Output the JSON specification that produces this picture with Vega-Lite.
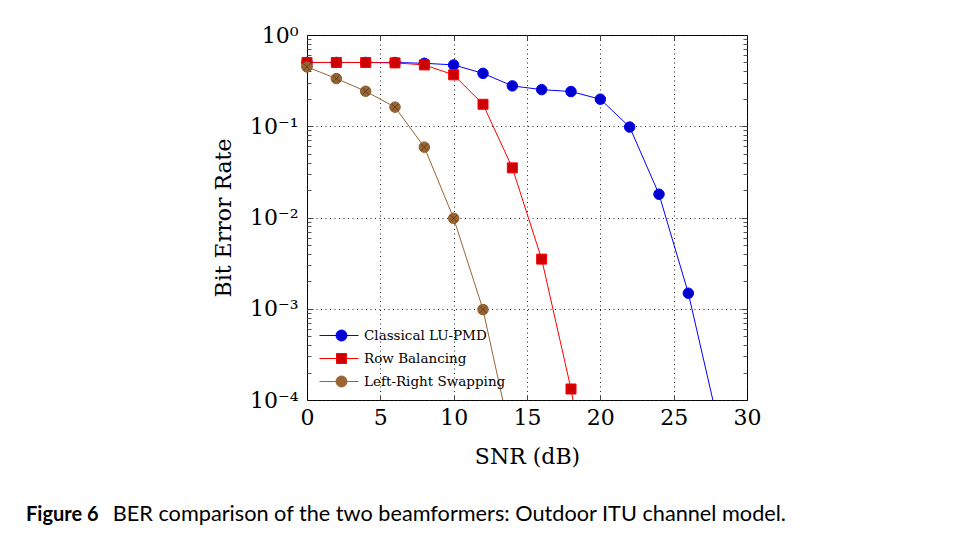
{
  "$schema": "https://vega.github.io/schema/vega-lite/v6.json",
  "width": 440,
  "height": 365,
  "autosize": {"type": "none"},
  "padding": {"left": 307, "top": 35, "right": 208, "bottom": 137},
  "background": "white",
  "config": {
    "view": {"stroke": "#000000", "strokeWidth": 1},
    "axis": {"labelColor": "#000000", "titleColor": "#000000", "titleFontWeight": "normal", "labelFont": "DejaVu Serif", "titleFont": "DejaVu Serif"},
    "title": {"color": "#000000"}
  },
  "title": {
    "text": "Figure 6",
    "subtitle": "\u200b\u2003\u2003\u2003\u2003\u2003\u2009\u2009BER comparison of the two beamformers: Outdoor ITU channel model.",
    "orient": "bottom",
    "anchor": "start",
    "frame": "group",
    "dx": -281,
    "offset": 38,
    "font": "Lato",
    "fontSize": 20,
    "fontWeight": "bold",
    "subtitleFont": "Lato",
    "subtitleFontSize": 21.7,
    "subtitleFontWeight": "normal",
    "subtitleColor": "#000000",
    "subtitlePadding": -21
  },
  "datasets": {
    "ber": [
      {"snr": 0, "ber": 0.5, "scheme": "Classical LU-PMD"},
      {"snr": 2, "ber": 0.5, "scheme": "Classical LU-PMD"},
      {"snr": 4, "ber": 0.5, "scheme": "Classical LU-PMD"},
      {"snr": 6, "ber": 0.5, "scheme": "Classical LU-PMD"},
      {"snr": 8, "ber": 0.49, "scheme": "Classical LU-PMD"},
      {"snr": 10, "ber": 0.47, "scheme": "Classical LU-PMD"},
      {"snr": 12, "ber": 0.38, "scheme": "Classical LU-PMD"},
      {"snr": 14, "ber": 0.277, "scheme": "Classical LU-PMD"},
      {"snr": 16, "ber": 0.252, "scheme": "Classical LU-PMD"},
      {"snr": 18, "ber": 0.24, "scheme": "Classical LU-PMD"},
      {"snr": 20, "ber": 0.198, "scheme": "Classical LU-PMD"},
      {"snr": 22, "ber": 0.098, "scheme": "Classical LU-PMD"},
      {"snr": 24, "ber": 0.018, "scheme": "Classical LU-PMD"},
      {"snr": 26, "ber": 0.00148, "scheme": "Classical LU-PMD"},
      {"snr": 28, "ber": 0.000059, "scheme": "Classical LU-PMD"},
      {"snr": 0, "ber": 0.5, "scheme": "Row Balancing"},
      {"snr": 2, "ber": 0.5, "scheme": "Row Balancing"},
      {"snr": 4, "ber": 0.5, "scheme": "Row Balancing"},
      {"snr": 6, "ber": 0.495, "scheme": "Row Balancing"},
      {"snr": 8, "ber": 0.47, "scheme": "Row Balancing"},
      {"snr": 10, "ber": 0.366, "scheme": "Row Balancing"},
      {"snr": 12, "ber": 0.174, "scheme": "Row Balancing"},
      {"snr": 14, "ber": 0.035, "scheme": "Row Balancing"},
      {"snr": 16, "ber": 0.0035, "scheme": "Row Balancing"},
      {"snr": 18, "ber": 0.000132, "scheme": "Row Balancing"},
      {"snr": 20, "ber": 0.000002, "scheme": "Row Balancing"},
      {"snr": 0, "ber": 0.447, "scheme": "Left-Right Swapping"},
      {"snr": 2, "ber": 0.333, "scheme": "Left-Right Swapping"},
      {"snr": 4, "ber": 0.242, "scheme": "Left-Right Swapping"},
      {"snr": 6, "ber": 0.162, "scheme": "Left-Right Swapping"},
      {"snr": 8, "ber": 0.059, "scheme": "Left-Right Swapping"},
      {"snr": 10, "ber": 0.0098, "scheme": "Left-Right Swapping"},
      {"snr": 12, "ber": 0.00098, "scheme": "Left-Right Swapping"},
      {"snr": 14, "ber": 0.000033, "scheme": "Left-Right Swapping"}
    ]
  },
  "data": {"name": "ber"},
  "layer": [
    {
      "mark": {"type": "line", "clip": true, "strokeWidth": 1},
      "encoding": {
        "x": {
          "field": "snr", "type": "quantitative",
          "scale": {"domain": [0, 30], "nice": false, "zero": false},
          "axis": {
            "orient": "bottom", "title": "SNR (dB)", "values": [0, 5, 10, 15, 20, 25, 30],
            "domain": false, "ticks": false, "labelFontSize": 22, "labelPadding": 7, "labelFlush": false,
            "titleFontSize": 22, "titlePadding": 18,
            "grid": true, "gridColor": "#222222", "gridDash": [1, 3.5], "gridWidth": 1
          }
        },
        "y": {
          "field": "ber", "type": "quantitative",
          "scale": {"type": "log", "domain": [0.0001, 1], "nice": false},
          "axis": {
            "orient": "left", "title": "Bit Error Rate", "values": [0.0001, 0.001, 0.01, 0.1, 1],
            "labelExpr": "datum.value > 0.5 ? '10\u2070' : datum.value > 0.05 ? '10\u207b\u00b9' : datum.value > 0.005 ? '10\u207b\u00b2' : datum.value > 0.0005 ? '10\u207b\u00b3' : '10\u207b\u2074'",
            "domain": false, "ticks": false, "labelFontSize": 22, "labelPadding": 9, "labelFlush": false, "labelOverlap": false,
            "titleFontSize": 22, "titlePadding": 14,
            "grid": true, "gridColor": "#222222", "gridDash": [1, 3.5], "gridWidth": 1
          }
        },
        "color": {
          "field": "scheme", "type": "nominal",
          "scale": {"domain": ["Classical LU-PMD", "Row Balancing", "Left-Right Swapping"], "range": ["#0000ff", "#ff0000", "#9a6535"]},
          "legend": {
            "title": null, "orient": "none", "legendX": 12, "legendY": 290,
            "symbolSize": 400, "symbolType": "circle", "padding": 0, "rowPadding": 5,
            "labelFont": "DejaVu Serif", "labelFontSize": 13.5, "labelColor": "#000000", "labelOffset": 24,
            "encode": {
              "symbols": {
                "update": {
                  "shape": {"signal": "datum.value === 'Row Balancing' ? 'M-1,0H0.7M1.7,0H2.9M0.7,-0.5H1.7V0.5H0.7Z' : datum.value === 'Left-Right Swapping' ? 'M-1,0H0.65M1.75,0H2.9M1.75,0A0.55,0.55 0 1 1 0.65,0A0.55,0.55 0 1 1 1.75,0ZM0.84,-0.36L1.56,0.36M0.84,0.36L1.56,-0.36' : 'M-1,0H0.65M1.75,0H2.9M1.75,0A0.55,0.55 0 1 1 0.65,0A0.55,0.55 0 1 1 1.75,0Z'"},
                  "fill": {"signal": "datum.value === 'Row Balancing' ? '#cc0000' : datum.value === 'Left-Right Swapping' ? '#996633' : '#0000cc'"},
                  "stroke": {"signal": "datum.value === 'Row Balancing' ? '#ff0000' : datum.value === 'Left-Right Swapping' ? '#7a5028' : '#0000ff'"},
                  "strokeWidth": {"value": 1},
                  "fillOpacity": {"value": 1},
                  "strokeOpacity": {"value": 1},
                  "opacity": {"value": 1}
                }
              }
            }
          }
        },
        "detail": {"field": "scheme"}
      }
    },
    {
      "transform": [{"filter": "datum.scheme === 'Classical LU-PMD' && datum.ber >= 0.0001"}],
      "mark": {"type": "point", "shape": "circle", "filled": true, "size": 110, "fill": "#0000cc", "stroke": "#0000ff", "strokeWidth": 1, "opacity": 1},
      "encoding": {
        "x": {"field": "snr", "type": "quantitative", "axis": {"orient": "bottom", "values": [5, 10, 15, 20, 25], "labels": false, "domain": false, "grid": false, "title": null, "ticks": true, "tickSize": 5, "offset": -5, "tickColor": "#444444", "tickWidth": 1}},
        "y": {"field": "ber", "type": "quantitative", "axis": {"orient": "left", "values": [0.001, 0.01, 0.1], "labels": false, "domain": false, "grid": false, "title": null, "ticks": true, "tickSize": 6, "offset": -6, "tickColor": "#444444", "tickWidth": 1}}
      }
    },
    {
      "transform": [{"filter": "datum.scheme === 'Row Balancing' && datum.ber >= 0.0001"}],
      "mark": {"type": "point", "shape": "square", "filled": true, "size": 100, "fill": "#cc0000", "stroke": "#ff0000", "strokeWidth": 1, "opacity": 1},
      "encoding": {
        "x": {"field": "snr", "type": "quantitative", "axis": {"orient": "top", "values": [5, 10, 15, 20, 25], "labels": false, "domain": false, "grid": false, "title": null, "ticks": true, "tickSize": 5, "offset": -5, "tickColor": "#444444", "tickWidth": 1}},
        "y": {"field": "ber", "type": "quantitative", "axis": {"orient": "left", "values": [0.0002, 0.0003, 0.0004, 0.0005, 0.0006, 0.0007, 0.0008, 0.0009, 0.002, 0.003, 0.004, 0.005, 0.006, 0.007, 0.008, 0.009, 0.02, 0.03, 0.04, 0.05, 0.06, 0.07, 0.08, 0.09, 0.2, 0.3, 0.4, 0.5, 0.6, 0.7, 0.8, 0.9], "labels": false, "domain": false, "grid": false, "title": null, "ticks": true, "tickSize": 4, "offset": -4, "tickColor": "#555555", "tickWidth": 1}}
      }
    },
    {
      "transform": [{"filter": "datum.scheme === 'Left-Right Swapping' && datum.ber >= 0.0001"}],
      "mark": {"type": "point", "shape": "circle", "filled": true, "size": 110, "fill": "#996633", "stroke": "#8a5a2c", "strokeWidth": 1, "opacity": 1},
      "encoding": {
        "x": {"field": "snr", "type": "quantitative", "axis": null},
        "y": {"field": "ber", "type": "quantitative", "axis": {"orient": "right", "values": [0.001, 0.01, 0.1], "labels": false, "domain": false, "grid": false, "title": null, "ticks": true, "tickSize": 6, "offset": -6, "tickColor": "#444444", "tickWidth": 1}}
      }
    },
    {
      "transform": [{"filter": "datum.scheme === 'Left-Right Swapping' && datum.ber >= 0.0001"}],
      "mark": {"type": "point", "shape": "M-0.65,-0.65L0.65,0.65M-0.65,0.65L0.65,-0.65", "filled": false, "size": 110, "stroke": "#5a3a1c", "strokeWidth": 0.9, "opacity": 1},
      "encoding": {
        "x": {"field": "snr", "type": "quantitative", "axis": null},
        "y": {"field": "ber", "type": "quantitative", "axis": {"orient": "right", "values": [0.0002, 0.0003, 0.0004, 0.0005, 0.0006, 0.0007, 0.0008, 0.0009, 0.002, 0.003, 0.004, 0.005, 0.006, 0.007, 0.008, 0.009, 0.02, 0.03, 0.04, 0.05, 0.06, 0.07, 0.08, 0.09, 0.2, 0.3, 0.4, 0.5, 0.6, 0.7, 0.8, 0.9], "labels": false, "domain": false, "grid": false, "title": null, "ticks": true, "tickSize": 4, "offset": -4, "tickColor": "#555555", "tickWidth": 1}}
      }
    }
  ],
  "resolve": {"axis": {"x": "independent", "y": "independent"}}
}
